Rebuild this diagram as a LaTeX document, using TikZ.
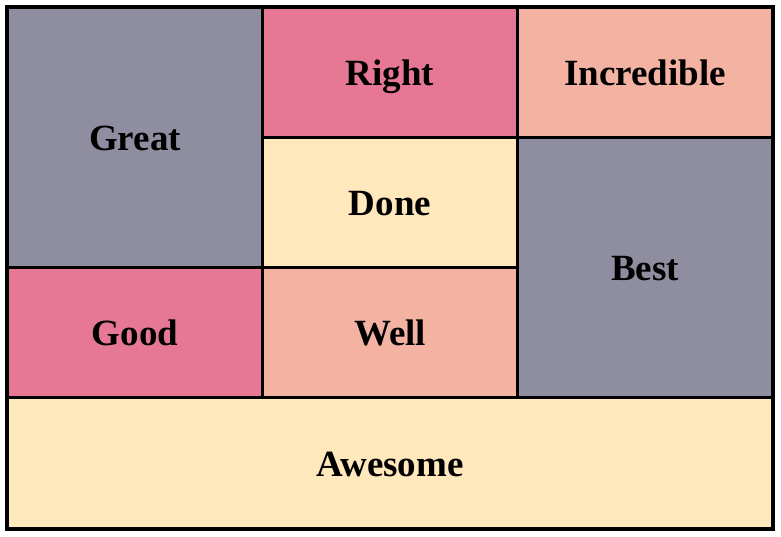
\documentclass[tikz,border=0pt]{standalone}
\usepackage{fontspec}
\setmainfont{Liberation Serif}
\definecolor{cgray}{HTML}{8F8EA1}
\definecolor{cpink}{HTML}{E67895}
\definecolor{cpeach}{HTML}{F4B2A3}
\definecolor{ccream}{HTML}{FFE8BC}
\begin{document}
\begin{tikzpicture}[x=1pt,y=-1pt,
  cell/.style={draw=black, line width=2.3pt, rectangle, inner sep=0pt,
    text height=26.5pt, text depth=0pt,
    font=\fontsize{37}{40}\selectfont\bfseries}]
\useasboundingbox (0,0) rectangle (781,536);
\node[cell, fill=cgray, minimum width=255pt, minimum height=260pt] (great) at (135,137.5) {Great};
\node[cell, fill=cpink, minimum width=255pt, minimum height=130pt] (right) at (390,72.5) {Right};
\node[cell, fill=cpeach, minimum width=255pt, minimum height=130pt] (incredible) at (645,72.5) {Incredible};
\node[cell, fill=ccream, minimum width=255pt, minimum height=130pt] (done) at (390,202.5) {Done};
\node[cell, fill=cgray, minimum width=255pt, minimum height=260pt] (best) at (645,267.5) {Best};
\node[cell, fill=cpink, minimum width=255pt, minimum height=130pt] (good) at (135,332.5) {Good};
\node[cell, fill=cpeach, minimum width=255pt, minimum height=130pt] (well) at (390,332.5) {Well};
\node[cell, fill=ccream, minimum width=765pt, minimum height=131pt] (awesome) at (390,463) {Awesome};
\draw[line width=3pt] (great.north west) rectangle (awesome.south east);
\end{tikzpicture}
\end{document}
